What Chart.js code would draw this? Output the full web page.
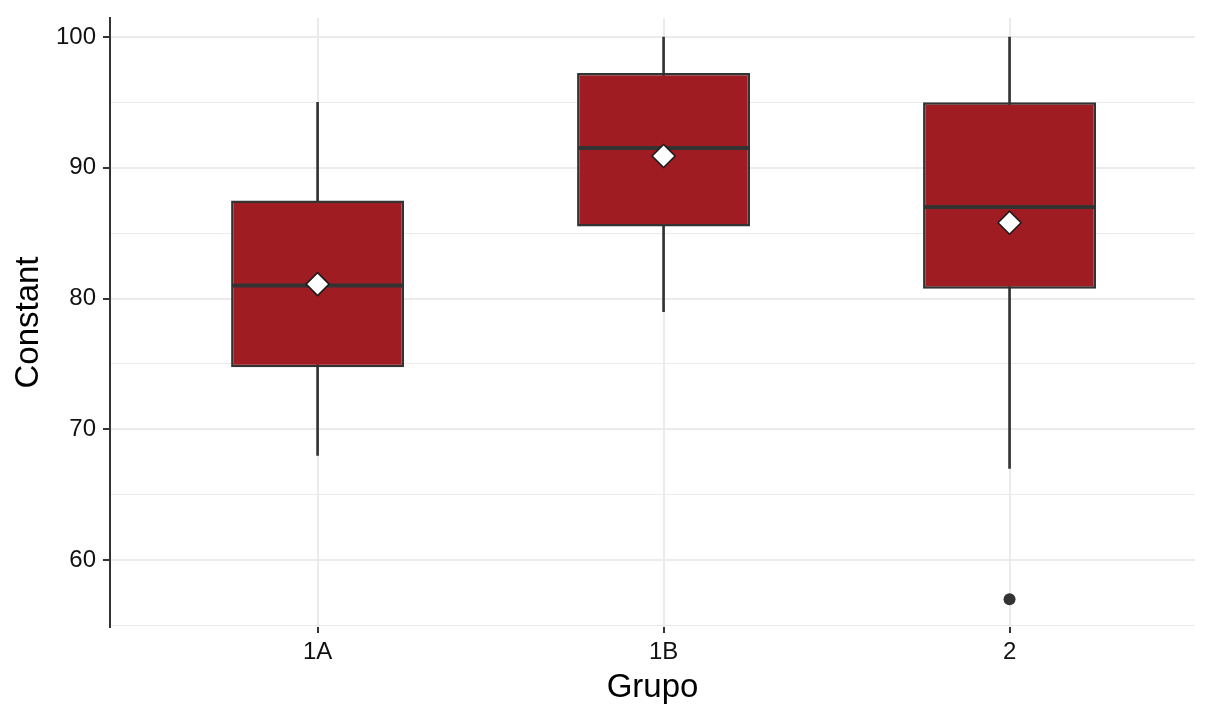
<!DOCTYPE html>
<html lang="en">
  <head>
    <meta charset="UTF-8">
    <title>Constant por Grupo</title>
    <script src="https://cdn.jsdelivr.net/npm/chart.js"></script>
    <style>
      html, body {
        margin: 0;
        overflow: hidden;
        background-color: #fff;
      }

      .chart-box {
        width: 1208px;
        height: 709px;
        position: relative;
      }
    </style>
  </head>
  <body>
    <div class="chart-box">
      <canvas id="box-chart"></canvas>
    </div>
    <script>
      // data
      const groups = ['1A', '1B', '2'];
      const whiskerLow = [68, 79, 67];
      const q1Values = [74.75, 85.5, 80.75];
      const medianValues = [81, 91.5, 87];
      const q3Values = [87.5, 97.25, 95];
      const whiskerHigh = [95, 100, 100];
      const meanValues = [81.1, 90.9, 85.8];
      const outlierGroup = ['2'];
      const outlierValues = [57];
      const yGridValues = [55, 60, 65, 70, 75, 80, 85, 90, 95, 100];
      const yTickLabels = [60, 70, 80, 90, 100];

      const fontFamily = "'Liberation Sans', Arial, sans-serif";
      const groupPos = name => groups.indexOf(name) + 1;

      // median line is drawn right after the boxes, so the mean diamonds stay on top
      const medianPlugin = {
        id: 'medianLine',
        afterDatasetDraw(chart, args) {
          if (chart.data.datasets[args.index].id !== 'boxes') return;
          const ctx = chart.ctx;
          const yScale = chart.scales.y;
          ctx.save();
          ctx.strokeStyle = '#333';
          ctx.lineWidth = 4;
          args.meta.data.forEach((bar, i) => {
            const { x, width } = bar.getProps(['x', 'width'], true);
            const y = yScale.getPixelForValue(medianValues[i]);
            ctx.beginPath();
            ctx.moveTo(x - width / 2 + 1, y);
            ctx.lineTo(x + width / 2 - 1, y);
            ctx.stroke();
          });
          ctx.restore();
        }
      };

      const noPadding = scale => {
        scale.paddingLeft = 0;
        scale.paddingRight = 0;
        scale.paddingTop = 0;
        scale.paddingBottom = 0;
      };

      const ctx = document.getElementById('box-chart').getContext('2d');
      new Chart(ctx, {
        type: 'bar',
        data: {
          datasets: [{
            id: 'means',
            type: 'line',
            order: 0,
            showLine: false,
            data: groups.map((g, i) => ({ x: groupPos(g), y: meanValues[i] })),
            pointStyle: 'rectRot',
            pointRadius: 11.5,
            pointBackgroundColor: '#fff',
            pointBorderColor: '#1a1a1a',
            pointBorderWidth: 1.5
          }, {
            id: 'outliers',
            type: 'line',
            order: 0,
            showLine: false,
            data: outlierGroup.map((g, i) => ({ x: groupPos(g), y: outlierValues[i] })),
            pointRadius: 6,
            pointBackgroundColor: '#333',
            pointBorderColor: '#333',
            pointBorderWidth: 0
          }, {
            id: 'boxes',
            order: 1,
            grouped: false,
            data: groups.map((g, i) => ({ x: groupPos(g), y: [q1Values[i], q3Values[i]] })),
            backgroundColor: '#9f1c22',
            borderColor: '#333',
            borderWidth: 2.5,
            borderSkipped: false,
            categoryPercentage: 1,
            barPercentage: 0.5
          }, {
            id: 'whiskers',
            order: 2,
            grouped: false,
            data: groups.map((g, i) => ({ x: groupPos(g), y: [whiskerLow[i], whiskerHigh[i]] })),
            backgroundColor: '#333',
            borderWidth: 0,
            barThickness: 2
          }]
        },
        options: {
          responsive: true,
          maintainAspectRatio: false,
          animation: false,
          events: [],
          layout: {
            padding: { top: 18, right: 0, bottom: 0, left: 0 }
          },
          plugins: {
            legend: { display: false },
            tooltip: { enabled: false }
          },
          scales: {
            x: {
              type: 'linear',
              offset: false,
              min: 0.4,
              max: 3.536,
              afterBuildTicks: scale => {
                scale.ticks = groups.map((g, i) => ({ value: i + 1 }));
              },
              afterFit: scale => {
                scale.height = 82;
                noPadding(scale);
              },
              border: { display: false },
              grid: {
                offset: false,
                color: '#ebebeb',
                lineWidth: 2,
                tickColor: '#333',
                tickWidth: 2,
                tickLength: 6
              },
              ticks: {
                autoSkip: false,
                maxRotation: 0,
                padding: 5,
                color: '#111',
                font: { family: fontFamily, size: 24 },
                callback: value => groups[value - 1] || ''
              },
              title: {
                display: true,
                text: 'Grupo',
                color: '#000',
                font: { family: fontFamily, size: 33, lineHeight: 1.2 },
                padding: { top: 0, bottom: 1 }
              }
            },
            y: {
              min: 54.88,
              max: 101.45,
              afterBuildTicks: scale => {
                scale.ticks = yGridValues.map(v => ({ value: v }));
              },
              afterFit: scale => {
                scale.width = 110;
                noPadding(scale);
              },
              border: { display: true, color: '#333', width: 2 },
              grid: {
                color: '#ebebeb',
                lineWidth: c => (yTickLabels.includes(c.tick.value) ? 2 : 1),
                tickColor: c => (yTickLabels.includes(c.tick.value) ? '#333' : 'rgba(0,0,0,0)'),
                tickWidth: 2,
                tickLength: 7
              },
              ticks: {
                autoSkip: false,
                padding: 7,
                color: '#111',
                font: { family: fontFamily, size: 24 },
                callback: value => (yTickLabels.includes(value) ? String(value) : '')
              },
              title: {
                display: true,
                text: 'Constant',
                color: '#000',
                font: { family: fontFamily, size: 33, lineHeight: 1.2 },
                padding: { top: 9, bottom: 0 }
              }
            }
          }
        },
        plugins: [medianPlugin]
      });
    </script>
  </body>
</html>
